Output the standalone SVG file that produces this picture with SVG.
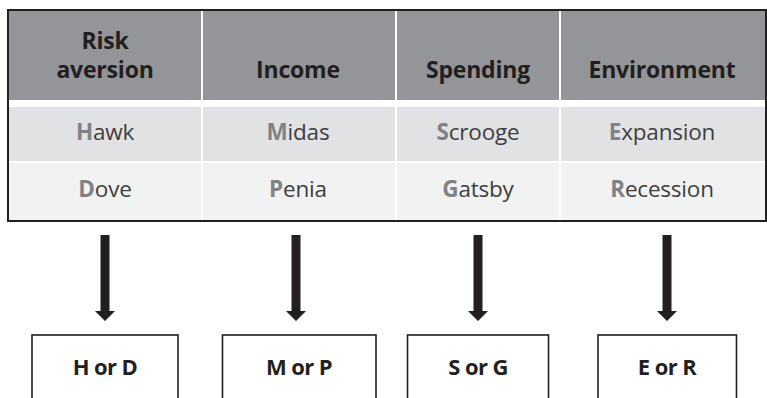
<svg xmlns="http://www.w3.org/2000/svg" width="767" height="398" viewBox="0 0 767 398">
<style>
.hd{font-family:"Open Sans","Liberation Sans",sans-serif;font-weight:bold;font-size:23px;fill:#231f20;text-anchor:middle;letter-spacing:-0.2px}
.bd{font-family:"Open Sans","Liberation Sans",sans-serif;font-size:22.5px;fill:#3f3e40;text-anchor:middle;letter-spacing:-0.2px}
.ini{font-weight:bold;fill:#808285}
.bx{fill:#ffffff;stroke:#231f20;stroke-width:1.6}
.bt{font-family:"Open Sans","Liberation Sans",sans-serif;font-weight:bold;font-size:22px;fill:#231f20;text-anchor:middle;letter-spacing:-0.6px}
.arr{fill:#231f20}
</style>
<rect width="767" height="398" fill="#ffffff"/>
<g id="table">
<rect x="8" y="10" width="758" height="90" fill="#939598"/>
<rect x="8" y="107" width="758" height="54" fill="#e1e2e3"/>
<rect x="8" y="163" width="758" height="57" fill="#f1f2f2"/>
<g fill="#ffffff">
<rect x="201" y="10" width="2" height="210"/>
<rect x="395" y="10" width="2" height="210"/>
<rect x="559" y="10" width="2" height="210"/>
</g>
<rect x="8" y="10" width="758" height="211" fill="none" stroke="#231f20" stroke-width="2"/>
<text class="hd" x="105" y="49">Risk</text>
<text class="hd" x="105" y="78">aversion</text>
<text class="hd" x="298" y="78">Income</text>
<text class="hd" x="478" y="78">Spending</text>
<text class="hd" x="662" y="78">Environment</text>
<text class="bd" x="105" y="140"><tspan class="ini">H</tspan>awk</text>
<text class="bd" x="298" y="140"><tspan class="ini">M</tspan>idas</text>
<text class="bd" x="478" y="140"><tspan class="ini">S</tspan>crooge</text>
<text class="bd" x="662" y="140"><tspan class="ini">E</tspan>xpansion</text>
<text class="bd" x="105" y="197"><tspan class="ini">D</tspan>ove</text>
<text class="bd" x="298" y="197"><tspan class="ini">P</tspan>enia</text>
<text class="bd" x="478" y="197"><tspan class="ini">G</tspan>atsby</text>
<text class="bd" x="662" y="197"><tspan class="ini">R</tspan>ecession</text>
</g>
<g id="connectors">
<path class="arr" d="M100.5 235 H109.5 V311 H115 L105 321 L95 311 H100.5 Z"/>
<path class="arr" d="M291.5 235 H300.5 V311 H306 L296 321 L286 311 H291.5 Z"/>
<path class="arr" d="M473.5 235 H482.5 V311 H488 L478 321 L468 311 H473.5 Z"/>
<path class="arr" d="M662.5 235 H671.5 V311 H677 L667 321 L657 311 H662.5 Z"/>
</g>
<g id="node-hd">
<rect class="bx" x="32" y="335" width="146" height="70"/>
<text class="bt" x="105" y="375">H or D</text>
</g>
<g id="node-mp">
<rect class="bx" x="222.5" y="335" width="153.5" height="70"/>
<text class="bt" x="299" y="375">M or P</text>
</g>
<g id="node-sg">
<rect class="bx" x="407.5" y="335" width="141" height="70"/>
<text class="bt" x="478" y="375">S or G</text>
</g>
<g id="node-er">
<rect class="bx" x="598" y="335" width="138.5" height="70"/>
<text class="bt" x="667" y="375">E or R</text>
</g>
</svg>
